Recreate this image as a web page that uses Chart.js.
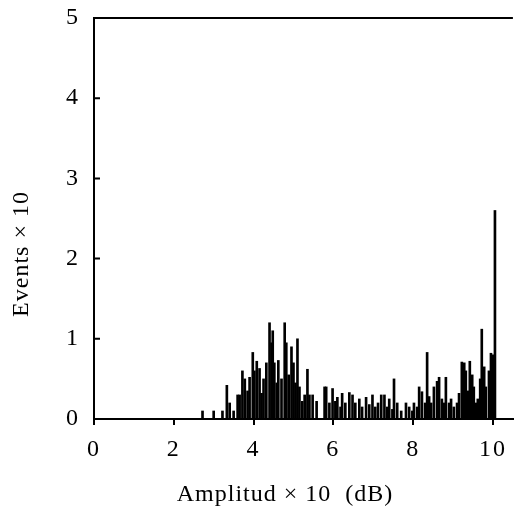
<!DOCTYPE html>
<html>
<head>
<meta charset="utf-8">
<script src="https://cdn.jsdelivr.net/npm/chart.js@4"></script>
<style>
  html, body { margin: 0; padding: 0; background: #fff; }
  #wrap { width: 515px; height: 506px; }
</style>
</head>
<body>
<div id="wrap"><canvas id="amp"></canvas></div>
<script>
// amplitude (x10 dB) of each bin and the event count (x10) there
const amplitude = [
  2.72, 3.0, 3.22, 3.33, 3.4, 3.5, 3.6, 3.65, 3.72, 3.78, 3.85, 3.9, 3.98,
  4.02, 4.08, 4.15, 4.2, 4.25, 4.32, 4.4, 4.45, 4.48, 4.52, 4.58, 4.62, 4.7,
  4.78, 4.82, 4.88, 4.95, 5.0, 5.05, 5.1, 5.15, 5.22, 5.28, 5.35, 5.4, 5.48,
  5.58, 5.78, 5.82, 5.9, 5.98, 6.05, 6.1, 6.18, 6.22, 6.3, 6.4, 6.48, 6.55,
  6.65, 6.72, 6.82, 6.9, 6.98, 7.05, 7.12, 7.2, 7.28, 7.35, 7.4, 7.48, 7.52,
  7.6, 7.7, 7.82, 7.9, 7.98, 8.02, 8.1, 8.15, 8.22, 8.3, 8.35, 8.4, 8.45,
  8.52, 8.6, 8.65, 8.72, 8.78, 8.82, 8.9, 8.95, 9.02, 9.1, 9.15, 9.22, 9.28,
  9.32, 9.38, 9.42, 9.48, 9.52, 9.58, 9.62, 9.68, 9.72, 9.78, 9.82, 9.9,
  9.95, 10.0, 10.05,
];
const events = [
  0.1, 0.1, 0.1, 0.42, 0.2, 0.1, 0.3, 0.3, 0.6, 0.5, 0.35, 0.52, 0.83,
  0.6, 0.72, 0.63, 0.32, 0.5, 0.7, 1.2, 0.95, 1.1, 0.7, 0.45, 0.73, 0.5,
  1.2, 0.95, 0.55, 0.9, 0.7, 0.45, 1.0, 0.4, 0.22, 0.3, 0.62, 0.3, 0.3,
  0.22, 0.4, 0.4, 0.2, 0.38, 0.22, 0.27, 0.15, 0.32, 0.2, 0.33, 0.3, 0.2,
  0.25, 0.15, 0.27, 0.18, 0.3, 0.15, 0.2, 0.3, 0.3, 0.15, 0.25, 0.12, 0.5,
  0.2, 0.1, 0.2, 0.15, 0.1, 0.2, 0.15, 0.4, 0.34, 0.2, 0.83, 0.28, 0.2,
  0.4, 0.47, 0.52, 0.25, 0.2, 0.52, 0.2, 0.25, 0.15, 0.2, 0.32, 0.71, 0.7,
  0.6, 0.35, 0.72, 0.55, 0.4, 0.2, 0.25, 0.5, 1.12, 0.65, 0.4, 0.6,
  0.82, 0.8, 2.6,
];
const xTicks = [0, 2, 4, 6, 8, 10];
const yTicks = [0, 1, 2, 3, 4, 5];
const xTitle = "Amplitud × 10  (dB)";
const yTitle = "Events × 10";

const family = "'Liberation Serif', 'DejaVu Serif', serif";
const font = { family, size: 24 };

// inward y ticks, the top frame line and both axis titles
const frame = {
  id: "frame",
  beforeDraw(chart) {
    chart.ctx.letterSpacing = "2px";
  },
  afterDraw(chart) {
    const { ctx, chartArea: a, scales } = chart;
    ctx.save();
    ctx.strokeStyle = "#000";
    ctx.lineWidth = 2;
    ctx.beginPath();
    ctx.moveTo(a.left, a.top);
    ctx.lineTo(a.right, a.top);
    yTicks.forEach((v) => {
      const y = scales.y.getPixelForValue(v);
      ctx.moveTo(a.left, y);
      ctx.lineTo(a.left + 6, y);
    });
    ctx.stroke();

    ctx.fillStyle = "#000";
    ctx.font = `24px ${family}`;
    ctx.letterSpacing = "1px";
    ctx.textAlign = "center";
    ctx.textBaseline = "middle";
    ctx.fillText(xTitle, a.left + 191, a.bottom + 76);
    ctx.translate(22, a.top + 236);
    ctx.rotate(-Math.PI / 2);
    ctx.fillText(yTitle, 0, 0);
    ctx.restore();
  },
};

new Chart(document.getElementById("amp"), {
  type: "bar",
  data: {
    datasets: [
      {
        data: amplitude.map((x, i) => ({ x, y: events[i] })),
        backgroundColor: "#000",
        barThickness: 2,
      },
    ],
  },
  options: {
    responsive: true,
    maintainAspectRatio: false,
    animation: { duration: 0 },
    layout: { padding: { top: 18, right: 1, left: 0, bottom: 0 } },
    plugins: {
      legend: { display: false },
      tooltip: { enabled: false },
    },
    scales: {
      x: {
        type: "linear",
        min: 0,
        max: 10.5,
        offset: false,
        afterBuildTicks: (s) => (s.ticks = xTicks.map((value) => ({ value }))),
        afterFit: (s) => (s.height = 87),
        border: { display: true, color: "#000", width: 2 },
        grid: {
          offset: false,
          drawOnChartArea: false,
          color: "#000",
          lineWidth: 2,
          tickLength: 6,
        },
        ticks: { color: "#000", font, padding: 10, maxRotation: 0 },
      },
      y: {
        min: 0,
        max: 5,
        afterBuildTicks: (s) => (s.ticks = yTicks.map((value) => ({ value }))),
        afterFit: (s) => (s.width = 94),
        border: { display: true, color: "#000", width: 2 },
        // blank tick room keeps the labels off the axis line
        grid: { drawOnChartArea: false, color: "rgba(0,0,0,0)", tickLength: 14 },
        ticks: { color: "#000", font, padding: 0 },
      },
    },
  },
  plugins: [frame],
});
</script>
</body>
</html>
